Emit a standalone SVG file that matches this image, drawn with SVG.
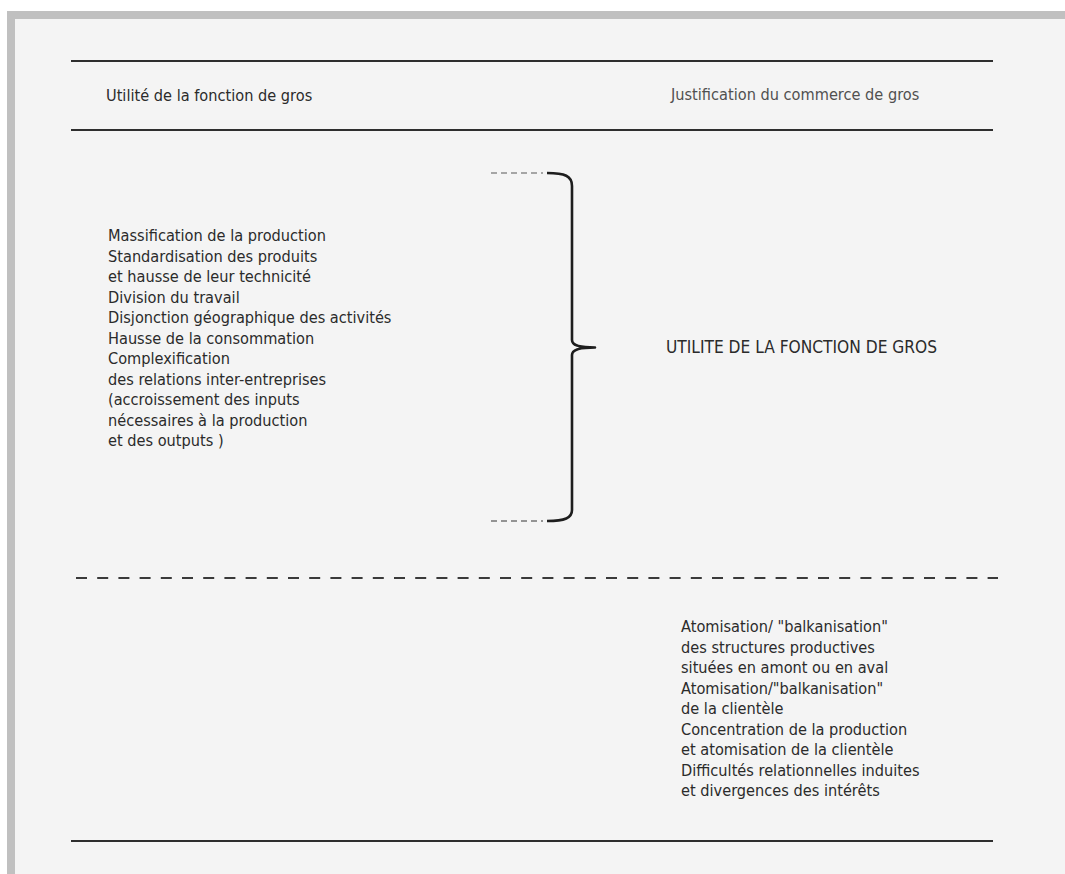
<svg xmlns="http://www.w3.org/2000/svg" width="1065" height="874" viewBox="0 0 1065 874">
  <style>
    .txt { font-family: "DejaVu Sans Condensed", "DejaVu Sans", sans-serif; font-size: 16.2px; fill: #2b2b2b; }
    .muted { fill: #505050; }
    .big { font-size: 17.2px; }
    .rule { stroke: #2e2e2e; stroke-width: 2; fill: none; }
    .sep { stroke: #3a3a3a; stroke-width: 2; stroke-dasharray: 11 10.2; fill: none; }
    .lead-top { stroke: #8a8a8a; stroke-width: 1.5; stroke-dasharray: 6 4; fill: none; }
    .lead-bot { stroke: #333333; stroke-width: 1.2; stroke-dasharray: 6 4; fill: none; }
    .brace { stroke: #1e1e1e; stroke-width: 2.6; fill: none; stroke-linejoin: round; }
  </style>

  <!-- page and frame -->
  <rect x="0" y="0" width="1065" height="874" fill="#ffffff"/>
  <rect x="7" y="11" width="1058" height="863" fill="#c0c0c0"/>
  <rect x="15" y="19" width="1050" height="855" fill="#f4f4f4"/>

  <!-- horizontal rules -->
  <g id="rules">
    <line class="rule" x1="71" y1="61" x2="993" y2="61"/>
    <line class="rule" x1="71" y1="130" x2="993" y2="130"/>
    <line class="sep" x1="76" y1="578" x2="998" y2="578"/>
    <line class="rule" x1="71" y1="841" x2="993" y2="841"/>
  </g>

  <!-- column headers -->
  <g id="header-left">
    <text class="txt" x="106" y="101">Utilité de la fonction de gros</text>
  </g>
  <g id="header-right">
    <text class="txt muted" x="671" y="100">Justification du commerce de gros</text>
  </g>

  <!-- factors list -->
  <g id="factors">
    <text class="txt" x="108" y="241">
      <tspan x="108" dy="0">Massification de la production</tspan>
      <tspan x="108" dy="20.5">Standardisation des produits</tspan>
      <tspan x="108" dy="20.5">et hausse de leur technicité</tspan>
      <tspan x="108" dy="20.5">Division du travail</tspan>
      <tspan x="108" dy="20.5">Disjonction géographique des activités</tspan>
      <tspan x="108" dy="20.5">Hausse de la consommation</tspan>
      <tspan x="108" dy="20.5">Complexification</tspan>
      <tspan x="108" dy="20.5">des relations inter-entreprises</tspan>
      <tspan x="108" dy="20.5">(accroissement des inputs</tspan>
      <tspan x="108" dy="20.5">nécessaires à la production</tspan>
      <tspan x="108" dy="20.5">et des outputs )</tspan>
    </text>
  </g>

  <!-- connectors: brace grouping the factors -->
  <g id="connectors">
    <line class="lead-top" x1="491" y1="173" x2="543" y2="173"/>
    <line class="lead-bot" x1="491" y1="521" x2="543" y2="521"/>
    <path class="brace" d="M547,173 C565,173 572,176 572,186 L572,340 C572,345 578,347.5 595,347.5 C578,347.5 572,350 572,355 L572,510 C572,518 565,521 547,521"/>
  </g>

  <g id="result">
    <text class="txt big" x="666" y="353">UTILITE DE LA FONCTION DE GROS</text>
  </g>

  <!-- justification list -->
  <g id="justification">
    <text class="txt" x="681" y="632">
      <tspan x="681" dy="0">Atomisation/ "balkanisation"</tspan>
      <tspan x="681" dy="20.5">des structures productives</tspan>
      <tspan x="681" dy="20.5">situées en amont ou en aval</tspan>
      <tspan x="681" dy="20.5">Atomisation/"balkanisation"</tspan>
      <tspan x="681" dy="20.5">de la clientèle</tspan>
      <tspan x="681" dy="20.5">Concentration de la production</tspan>
      <tspan x="681" dy="20.5">et atomisation de la clientèle</tspan>
      <tspan x="681" dy="20.5">Difficultés relationnelles induites</tspan>
      <tspan x="681" dy="20.5">et divergences des intérêts</tspan>
    </text>
  </g>
</svg>
